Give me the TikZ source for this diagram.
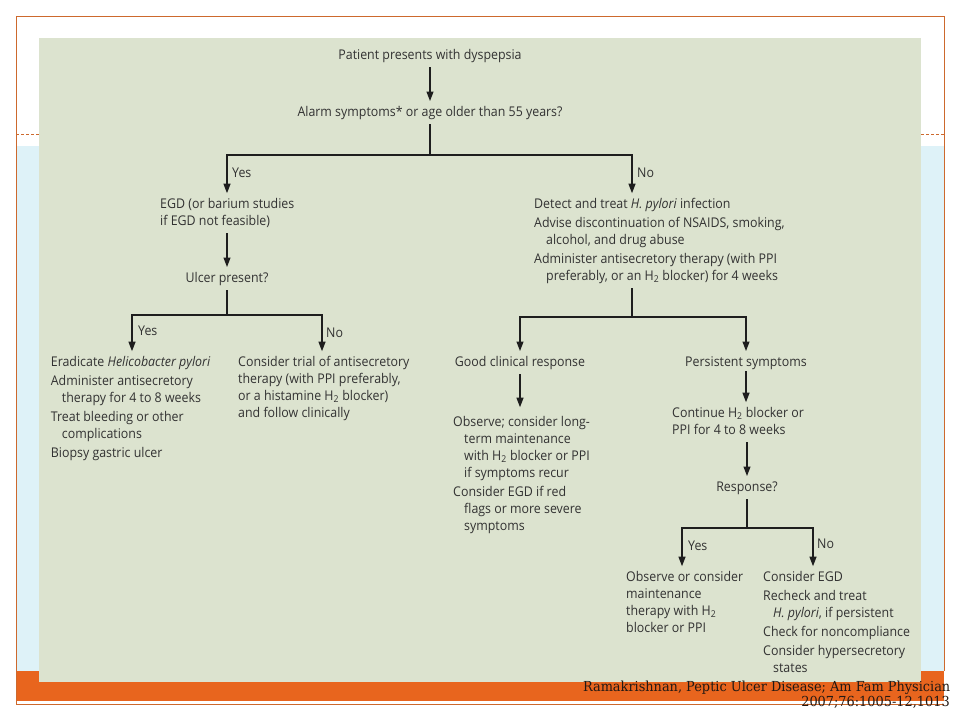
\documentclass[tikz,border=0pt]{standalone}
\usepackage{fontspec}
\usetikzlibrary{arrows.meta,calc}
\newfontfamily\flowfont[FakeStretch=0.925]{Open Sans}
\newfontfamily\citefont[FakeStretch=0.935]{DejaVu Serif}
\newcommand\fltop{\rule{0pt}{12.3pt}}
\newcommand\flbot{\rule[-4.5pt]{0pt}{4.5pt}}
\definecolor{panelgreen}{RGB}{220,227,207}
\definecolor{paleblue}{RGB}{222,242,248}
\definecolor{barorange}{RGB}{232,101,30}
\definecolor{frameorange}{RGB}{205,105,45}
\definecolor{textgray}{RGB}{50,50,50}
\definecolor{linegray}{RGB}{30,30,30}
\definecolor{citeink}{RGB}{35,25,20}
\begin{document}
\begin{tikzpicture}[x=1pt,y=-1pt,
  txt/.style={font={\flowfont\fontsize{13.4}{17}\selectfont}, text=textgray,
              inner xsep=0pt, inner ysep=3pt},
  blk/.style={txt, align=left, anchor=north west},
  ctr/.style={txt, anchor=center},
  lbl/.style={txt, anchor=west},
  ln/.style={draw=linegray, line width=1.1pt},
  arr/.style={ln, -{Triangle[length=9.5pt,width=7pt]}},
  cite/.style={font={\citefont\fontsize{13.8}{15}\selectfont}, text=citeink,
               inner sep=0pt, anchor=base east}]
\useasboundingbox (0,0) rectangle (960,720);
% slide background
\fill[white] (0,0) rectangle (960,720);
\fill[paleblue] (16,146) rectangle (944,671);
\draw[frameorange, line width=1pt, dash pattern=on 3pt off 2pt] (16,134) -- (944,134);
\fill[barorange] (16,671) rectangle (944,701);
\draw[frameorange, line width=1pt] (16,704) -- (944,704);
\draw[frameorange, line width=1pt] (16,704) -- (16,16) -- (944,16) -- (944,671);
% panel
\fill[panelgreen] (39,38) rectangle (921,682);
% column coordinates
\coordinate (colR) at (632,0);
\coordinate (colA) at (132,0);
\coordinate (colB) at (322,0);
\coordinate (colY) at (682,0);
\coordinate (colN) at (813,0);
% nodes
\node[ctr] (patient) at (430,55.6) {\fltop Patient presents with dyspepsia\flbot};
\node[ctr] (alarm) at (430,112.6) {\fltop Alarm symptoms* or age older than 55 years?\flbot};
\node[blk] (egd) at (160,193.2) {\fltop EGD (or barium studies\\if EGD not feasible)\flbot};
\node[ctr] (ulcer) at (227,278.6) {\fltop Ulcer present?\flbot};
\node[blk] (erad) at (50.7,351.2) {\fltop Eradicate \textit{Helicobacter pylori}\\[2pt]
  Administer antisecretory\\\hspace*{11pt}therapy for 4 to 8 weeks\\[2pt]
  Treat bleeding or other\\\hspace*{11pt}complications\\[2pt]
  Biopsy gastric ulcer\flbot};
\node[blk] (trial) at (238,351.2) {\fltop Consider trial of antisecretory\\
  therapy (with PPI preferably,\\or a histamine H\textsubscript{2} blocker)\\
  and follow clinically\flbot};
\node[blk] (detect) at (534,193.2) {\fltop Detect and treat \textit{H. pylori} infection\\[2pt]
  Advise discontinuation of NSAIDS, smoking,\\\hspace*{12pt}alcohol, and drug abuse\\[2pt]
  Administer antisecretory therapy (with PPI\\\hspace*{12pt}preferably, or an H\textsubscript{2} blocker) for 4 weeks\flbot};
\node[ctr] (good) at (520,362.6) {\fltop Good clinical response\flbot};
\node[ctr] (persist) at (746,362.6) {\fltop Persistent symptoms\flbot};
\node[blk] (observe) at (453,411.2) {\fltop Observe; consider long-\\\hspace*{11pt}term maintenance\\
  \hspace*{11pt}with H\textsubscript{2} blocker or PPI\\\hspace*{11pt}if symptoms recur\\[2pt]
  Consider EGD if red\\\hspace*{11pt}flags or more severe\\\hspace*{11pt}symptoms\flbot};
\node[blk] (cont) at (672,402.2) {\fltop Continue H\textsubscript{2} blocker or\\PPI for 4 to 8 weeks\flbot};
\node[ctr] (response) at (747,487.6) {\fltop Response?\flbot};
\node[blk] (obsmaint) at (626,566.2) {\fltop Observe or consider\\maintenance\\therapy with H\textsubscript{2}\\blocker or PPI\flbot};
\node[blk] (consegd) at (763,566.2) {\fltop Consider EGD\\[2pt]Recheck and treat\\
  \hspace*{10pt}\textit{H. pylori}, if persistent\\[2pt]Check for noncompliance\\[2pt]
  Consider hypersecretory\\\hspace*{10pt}states\flbot};
% branch labels
\node[lbl] (yes1) at (232,173.6) {\fltop Yes\flbot};
\node[lbl] (no1) at (637,173.6) {\fltop No\flbot};
\node[lbl] (yes2) at (138,331.6) {\fltop Yes\flbot};
\node[lbl] (no2) at (326,333.6) {\fltop No\flbot};
\node[lbl] (yes3) at (688,546.6) {\fltop Yes\flbot};
\node[lbl] (no3) at (817,544.6) {\fltop No\flbot};
% junctions
\coordinate (j1) at (430,155);
\coordinate (j2) at (227,315);
\coordinate (j3) at (632,317);
\coordinate (j4) at (747,528);
% connectors
\draw[arr] (patient) -- (alarm);
\draw[ln] (alarm) -- (j1);
\draw[arr] (j1) -| (egd.north -| ulcer);
\draw[arr] (j1) -| (detect.north -| colR);
\draw[arr] (egd.south -| ulcer) -- (ulcer);
\draw[ln] (ulcer) -- (j2);
\draw[arr] (j2) -| (erad.north -| colA);
\draw[arr] (j2) -| (trial.north -| colB);
\draw[ln] (detect.south -| colR) -- (j3);
\draw[arr] (j3) -| (good);
\draw[arr] (j3) -| (persist);
\draw[arr] (good) -- ($(good |- observe.north)+(0,-4)$);
\draw[arr] ($(persist.south)+(0,-3)$) -- (persist |- cont.north);
\draw[arr] (cont.south -| response) -- (response);
\draw[ln] (response) -- (j4);
\draw[arr] (j4) -| (obsmaint.north -| colY);
\draw[arr] (j4) -| (consegd.north -| colN);
% citation
\node[cite] (cite1) at (950.5,691) {Ramakrishnan, Peptic Ulcer Disease; Am Fam Physician};
\node[cite] (cite2) at (950,706) {2007;76:1005-12,1013};
\end{tikzpicture}
\end{document}
